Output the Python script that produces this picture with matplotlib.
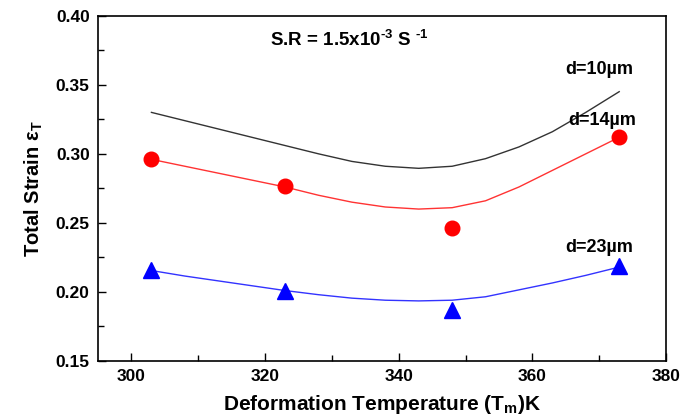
import matplotlib
matplotlib.use('Agg')
import matplotlib.pyplot as plt
from matplotlib.ticker import MultipleLocator

plt.rcParams['font.family'] = ['Liberation Sans', 'DejaVu Sans']
plt.rcParams['font.weight'] = 'bold'
plt.rcParams['mathtext.fontset'] = 'custom'
plt.rcParams['mathtext.rm'] = 'Liberation Sans:bold'
plt.rcParams['mathtext.default'] = 'regular'
plt.rcParams['axes.unicode_minus'] = False

# measured points
temp_pts = [303, 323, 348, 373]
strain_14 = [0.296, 0.277, 0.246, 0.312]
strain_23 = [0.216, 0.201, 0.187, 0.219]

# fitted curves
temp_fit = [303, 308, 313, 318, 323, 328, 333, 338, 343, 348, 353, 358, 363, 368, 373]
fit_10 = [0.330, 0.324, 0.318, 0.312, 0.306, 0.300, 0.2945, 0.291, 0.2895, 0.291,
          0.2965, 0.305, 0.316, 0.330, 0.345]
fit_14 = [0.296, 0.291, 0.286, 0.281, 0.276, 0.270, 0.265, 0.2615, 0.260, 0.261,
          0.266, 0.276, 0.288, 0.300, 0.312]
fit_23 = [0.2155, 0.2115, 0.208, 0.2045, 0.201, 0.198, 0.1955, 0.194, 0.1935, 0.194,
          0.1965, 0.2015, 0.2065, 0.212, 0.218]

labels = ['d=10µm', 'd=14µm', 'd=23µm']
label_pos = [(370, 0.361), (370.4, 0.324), (370, 0.232)]

fig = plt.figure(figsize=(6.88, 4.18), dpi=100)
ax = fig.add_axes([0.1424, 0.1364, 0.968 - 0.1424, 0.9624 - 0.1364])

ax.plot(temp_fit, fit_10, '-', color='#333333', lw=1)
ax.plot(temp_fit, fit_14, '-', color='#ff3333', lw=1)
ax.plot(temp_fit, fit_23, '-', color='#3333ff', lw=1)
ax.plot(temp_pts, strain_14, 'o', color='#ff0000', ms=10.5, mec='#ff0000')
ax.plot(temp_pts, strain_23, '^', color='#0000ff', ms=11.5, mec='#0000ff')

for txt, (tx, ty) in zip(labels, label_pos):
    ax.text(tx, ty, txt, ha='center', va='center', fontsize=13, fontweight='bold')

ax.text(320.8, 0.3824, r'S.R = 1.5x10$^{\text{-3}}$ S $^{\text{-1}}$', ha='left', va='center',
        fontsize=13.5, fontweight='bold')

ax.set_xlim(295, 380)
ax.set_ylim(0.15, 0.40)
ax.xaxis.set_major_locator(MultipleLocator(20))
ax.xaxis.set_minor_locator(MultipleLocator(10))
ax.yaxis.set_major_locator(MultipleLocator(0.05))
ax.yaxis.set_minor_locator(MultipleLocator(0.025))
ax.tick_params(which='both', direction='in', top=False, right=False, width=1)
ax.tick_params(which='major', length=6, labelsize=12.5, pad=6)
ax.tick_params(which='minor', length=4)
ax.yaxis.set_major_formatter(plt.FormatStrFormatter('%.2f'))
for lab in ax.get_xticklabels() + ax.get_yticklabels():
    lab.set_fontweight('bold')
for s in ax.spines.values():
    s.set_linewidth(1.2)

ax.set_xlabel(r'Deformation Temperature (T$_{m}$)K', fontsize=15, fontweight='bold', labelpad=6)
ax.set_ylabel(r'Total Strain $\epsilon_{T}$', fontsize=14.5, fontweight='bold', labelpad=8)

fig.savefig('out.png', dpi=100)
